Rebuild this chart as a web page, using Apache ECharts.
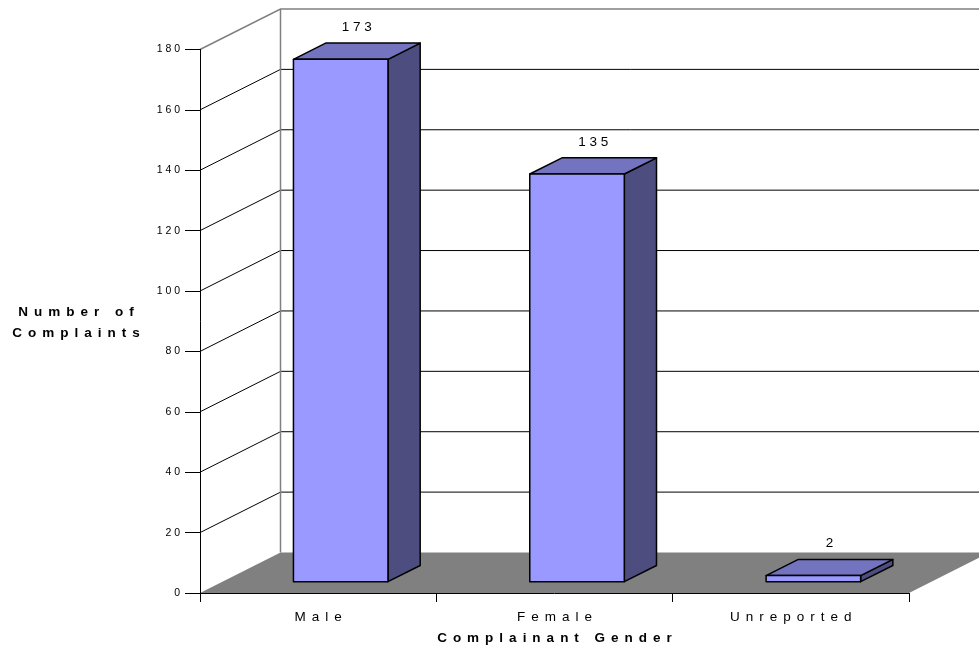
<!DOCTYPE html>
<html>
<head>
<meta charset="utf-8">
<script src="https://cdn.jsdelivr.net/npm/echarts@6/dist/echarts.min.js"></script>
<style>
  html, body { margin: 0; padding: 0; background: #fff; }
  #chart { width: 979px; height: 648px; }
</style>
</head>
<body>
<div id="chart"></div>
<script>
// 数据
const categories = ['Male', 'Female', 'Unreported'];
const complaints = [173, 135, 2];
const yTicks = [0, 20, 40, 60, 80, 100, 120, 140, 160, 180];

// 3D 效果参数
const DEPTH = { x: 80.5, y: -40.5 };   // 整个进深的偏移
const FRONT = 0.28;                     // 柱子正面所在的进深比例
const BAR_DEPTH = 0.4;                  // 柱子厚度比例
const BAR_RATIO = 0.4;                  // 柱宽占类目宽度比例
const FONT = "'Liberation Sans', Arial, sans-serif";
const WIDE = ' \u2006';                 // 字距

// 字母之间加空格，模拟原图的宽字距
function spaced(s, sep) {
    return String(s).split('').join(sep);
}

const chart = echarts.init(document.getElementById('chart'));

// 背景墙、地板和网格线
function renderWalls(params, api) {
    const cs = params.coordSys;
    const x0 = cs.x, x1 = cs.x + cs.width;
    const yTop = api.coord([0, yTicks[yTicks.length - 1]])[1];
    const yBot = api.coord([0, yTicks[0]])[1];
    const dx = DEPTH.x, dy = DEPTH.y;
    const children = [];
    children.push({
        type: 'polygon',
        shape: { points: [[x0, yTop], [x0 + dx, yTop + dy], [x0 + dx, yBot + dy], [x0, yBot]] },
        style: { fill: '#fff' }
    });
    children.push({
        type: 'polygon',
        shape: { points: [[x0 + dx, yTop + dy], [x1 + dx, yTop + dy], [x1 + dx, yBot + dy], [x0 + dx, yBot + dy]] },
        style: { fill: '#fff' }
    });
    // 网格线
    yTicks.slice(1, -1).forEach(v => {
        const y = api.coord([0, v])[1];
        children.push({
            type: 'polyline',
            shape: { points: [[x0, y], [x0 + dx, y + dy], [x1 + dx, y + dy]] },
            style: { stroke: '#000', lineWidth: 1, fill: null }
        });
    });
    // 地板
    children.push({
        type: 'polygon',
        shape: { points: [[x0, yBot], [x0 + dx, yBot + dy], [x1 + dx, yBot + dy], [x1, yBot]] },
        style: { fill: '#808080' }
    });
    // 墙边框
    children.push({
        type: 'polyline',
        shape: { points: [[x0, yTop], [x0 + dx, yTop + dy], [x1 + dx, yTop + dy]] },
        style: { stroke: '#808080', lineWidth: 1.5, fill: null }
    });
    children.push({
        type: 'line',
        shape: { x1: x0 + dx, y1: yTop + dy, x2: x0 + dx, y2: yBot + dy },
        style: { stroke: '#808080', lineWidth: 1.5 }
    });
    return { type: 'group', children: children };
}

// 3D 柱子
function renderBar(params, api) {
    const idx = api.value(0);
    const val = api.value(1);
    const base = api.coord([idx, 0]);
    const top = api.coord([idx, val]);
    const w = api.size([1, 0])[0] * BAR_RATIO;
    const fx = base[0] + DEPTH.x * FRONT - w / 2;
    const fy0 = base[1] + DEPTH.y * FRONT;
    const fy1 = top[1] + DEPTH.y * FRONT;
    const sx = DEPTH.x * BAR_DEPTH, sy = DEPTH.y * BAR_DEPTH;
    const edge = { stroke: '#000', lineWidth: 1.5, lineJoin: 'round' };
    return {
        type: 'group',
        children: [
            {
                type: 'polygon',
                shape: { points: [[fx + w, fy1], [fx + w + sx, fy1 + sy], [fx + w + sx, fy0 + sy], [fx + w, fy0]] },
                style: Object.assign({ fill: '#4D4D80' }, edge)
            },
            {
                type: 'polygon',
                shape: { points: [[fx, fy1], [fx + sx, fy1 + sy], [fx + w + sx, fy1 + sy], [fx + w, fy1]] },
                style: Object.assign({ fill: '#7373BF' }, edge)
            },
            {
                type: 'polygon',
                shape: { points: [[fx, fy1], [fx + w, fy1], [fx + w, fy0], [fx, fy0]] },
                style: Object.assign({ fill: '#9999FF' }, edge)
            },
            {
                type: 'text',
                style: {
                    text: spaced(val, ' '),
                    x: fx + w / 2 + sx / 2,
                    y: fy1 + sy / 2 - 24,
                    align: 'center',
                    verticalAlign: 'middle',
                    font: '13.5px ' + FONT,
                    fill: '#000'
                }
            }
        ]
    };
}

const option = {
    animation: false,
    grid: { left: 200, right: 70, top: 49.5, bottom: 55, outerBoundsMode: 'none', containLabel: false },
    graphic: [{
        type: 'text',
        x: 76,
        y: 323,
        style: {
            text: spaced('Number of', WIDE) + '\n' + spaced('Complaints', WIDE),
            font: 'bold 13.5px ' + FONT,
            fill: '#000',
            align: 'center',
            verticalAlign: 'middle',
            lineHeight: 21
        }
    }],
    xAxis: {
        type: 'category',
        data: categories,
        z: 5,
        name: spaced('Complainant Gender', WIDE),
        nameLocation: 'middle',
        nameGap: 38,
        nameTextStyle: { fontFamily: FONT, fontSize: 13.5, fontWeight: 'bold', color: '#000' },
        axisLine: { lineStyle: { color: '#000', width: 1 } },
        axisTick: { show: true, length: 9, lineStyle: { color: '#000' } },
        axisLabel: {
            margin: 17,
            fontFamily: FONT,
            fontSize: 13.5,
            color: '#000',
            formatter: v => spaced(v, WIDE)
        },
        splitLine: { show: false }
    },
    yAxis: {
        type: 'value',
        min: 0,
        max: 180,
        interval: 20,
        z: 5,
        axisLine: { show: true, lineStyle: { color: '#000', width: 1 } },
        axisTick: { show: true, length: 15, lineStyle: { color: '#000' } },
        axisLabel: {
            margin: 20,
            fontFamily: FONT,
            fontSize: 10.5,
            color: '#000',
            formatter: v => spaced(v, ' ')
        },
        splitLine: { show: false }
    },
    series: [
        {
            type: 'custom',
            z: 1,
            clip: false,
            silent: true,
            renderItem: renderWalls,
            data: [[0, 0]]
        },
        {
            type: 'custom',
            z: 2,
            clip: false,
            renderItem: renderBar,
            encode: { x: 0, y: 1 },
            data: categories.map((c, i) => [i, complaints[i]])
        }
    ]
};

chart.setOption(option);
</script>
</body>
</html>
